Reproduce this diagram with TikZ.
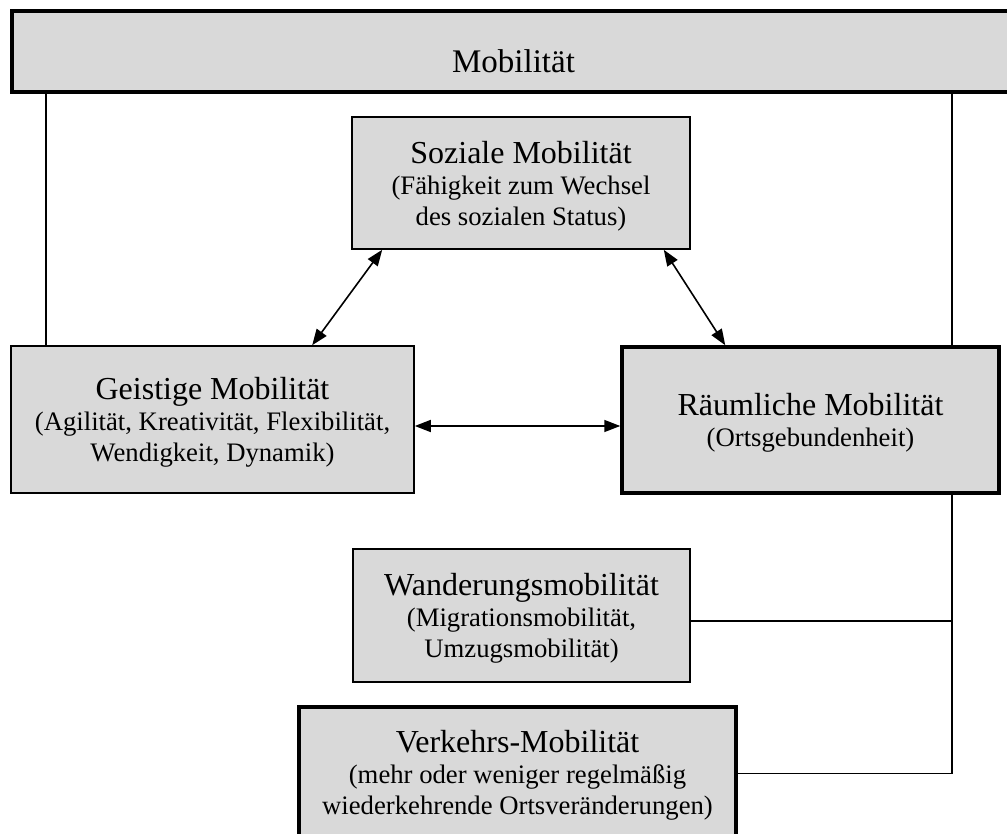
\documentclass[tikz,border=0pt]{standalone}
\usepackage{fontspec}
\setmainfont{Liberation Serif}
\usetikzlibrary{arrows.meta}
\definecolor{boxgray}{RGB}{217,217,217}
\newcommand\boxtitle[1]{{\fontsize{32}{36}\selectfont #1}}
\newcommand\subsize{\fontsize{26.7}{31}\selectfont}
\begin{document}
\begin{tikzpicture}[x=1pt,y=-1pt,
  box/.style={draw=black, fill=boxgray, line width=1.6pt, inner sep=0pt},
  heavy/.style={box, line width=3.5pt},
  txt/.style={inner sep=0pt, align=center, font=\subsize},
  link/.style={line width=1.6pt},
  dbl/.style={link, {Triangle[length=16pt,width=12pt]}-{Triangle[length=16pt,width=12pt]}},
]
\useasboundingbox (0,0) rectangle (1007,834);

% boxes
\node[heavy, minimum width=1003pt, minimum height=81pt] (mob) at (513.5,51.5) {};
\node[box, minimum width=338pt, minimum height=132pt] (soz) at (521,183) {};
\node[box, minimum width=403pt, minimum height=147pt] (geist) at (212.5,419.5) {};
\node[heavy, minimum width=377pt, minimum height=146pt] (raum) at (810.5,420) {};
\node[box, minimum width=337pt, minimum height=133pt] (wand) at (521.5,615.5) {};
\node[heavy, minimum width=437pt, minimum height=133pt] (verk) at (517.5,773.5) {};

% box texts
\node[txt, font=\fontsize{33}{36}\selectfont] (mob-t) at ([yshift=-10pt]mob.center) {Mobilität};
\node[txt] (soz-t) at ([yshift=-3pt]soz.center)
  {\boxtitle{Soziale Mobilität}\\(Fähigkeit zum Wechsel\\des sozialen Status)};
\node[txt] (geist-t) at ([yshift=-3pt]geist.center)
  {\boxtitle{Geistige Mobilität}\\(Agilität, Kreativität, Flexibilität,\\Wendigkeit, Dynamik)};
\node[txt] (raum-t) at ([yshift=-3pt]raum.center)
  {\boxtitle{Räumliche Mobilität}\\(Ortsgebundenheit)};
\node[txt] (wand-t) at ([yshift=-3pt]wand.center)
  {\boxtitle{Wanderungsmobilität}\\(Migrationsmobilität,\\Umzugsmobilität)};
\node[txt] (verk-t) at ([yshift=-2pt]verk.center)
  {\boxtitle{Verkehrs-Mobilität}\\(mehr oder weniger regelmäßig\\wiederkehrende Ortsveränderungen)};

% tree lines from the top box
\coordinate (lx) at (46,0);
\coordinate (rx) at (952,0);
\draw[link] (mob.south -| lx) -- (geist.north -| lx);
\draw[link] (mob.south -| rx) -- (raum.north -| rx);
\draw[link] (raum.south -| rx) -- (verk.east -| rx) -- (verk.east);
\draw[link] ([yshift=-5.5pt]wand.east) -- ([yshift=-5.5pt]wand.east -| rx);

% mutual relations
\draw[dbl] ([xshift=31pt]soz.south west) -- ([xshift=302pt]geist.north west);
\draw[dbl] ([xshift=-27pt]soz.south east) -- ([xshift=105pt]raum.north west);
\draw[dbl] ([yshift=-6.5pt]geist.east) -- ([yshift=-6.5pt]geist.east -| raum.west);
\end{tikzpicture}
\end{document}
